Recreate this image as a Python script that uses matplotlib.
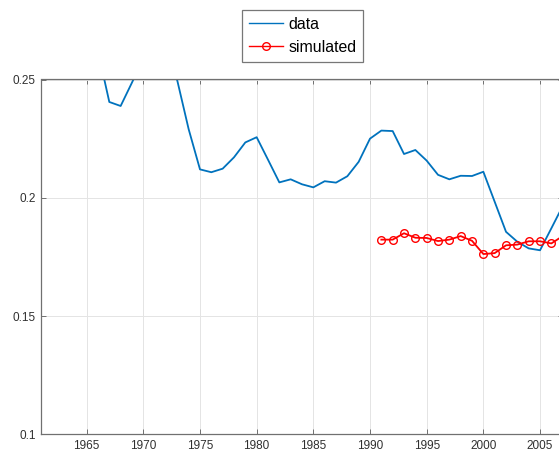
import matplotlib
matplotlib.use("Agg")
import matplotlib.pyplot as plt

# ---- data ----
data_years = list(range(1961, 2008))
data_values = [0.275, 0.270, 0.268, 0.266, 0.264,
               0.262, 0.2405, 0.2388, 0.2487, 0.259,
               0.266, 0.263, 0.2495, 0.229, 0.2120,
               0.2108, 0.2123, 0.2171, 0.2234, 0.2256,
               0.2161, 0.2065, 0.2078, 0.2057, 0.2044,
               0.2070, 0.2064, 0.2091, 0.2152, 0.2250,
               0.2284, 0.2282, 0.2185, 0.2202, 0.2157,
               0.2097, 0.2078, 0.2093, 0.2092, 0.2110,
               0.1983, 0.1856, 0.1814, 0.1786, 0.1778,
               0.1871, 0.1965]
sim_years = list(range(1991, 2008))
sim_values = [0.1823, 0.1823, 0.1850, 0.1831, 0.1830, 0.1817, 0.1823,
              0.1838, 0.1818, 0.1762, 0.1766, 0.1799, 0.1802, 0.1816,
              0.1816, 0.1807, 0.1838]
x_ticks = [1965, 1970, 1975, 1980, 1985, 1990, 1995, 2000, 2005]
x_ticklabels = ["1965", "1970", "1975", "1980", "1985", "1990", "1995", "2000", "2005"]
y_ticks = [0.1, 0.15, 0.2, 0.25]
y_ticklabels = ["0.1", "0.15", "0.2", "0.25"]
legend_labels = ["data", "simulated"]

plt.rcParams['font.family'] = ['Liberation Sans', 'DejaVu Sans']

W, H = 559, 455
fig = plt.figure(figsize=(W / 100, H / 100), dpi=100)
left_px, right_px, top_px, bottom_px = 41.3, 562.7, 79.5, 434.3
ax = fig.add_axes([left_px / W, (H - bottom_px) / H,
                   (right_px - left_px) / W, (bottom_px - top_px) / H])

l1, = ax.plot(data_years, data_values, color='#0072BD', lw=1.3)
l2, = ax.plot(sim_years, sim_values, color='#FF0000', lw=1.3, marker='o',
              markersize=5.5, markerfacecolor='none', markeredgewidth=1.0)

ax.set_xlim(1961, 2007)
ax.set_ylim(0.1, 0.25)
ax.set_xticks(x_ticks)
ax.set_xticklabels(x_ticklabels)
ax.set_yticks(y_ticks)
ax.set_yticklabels(y_ticklabels)

ax.grid(True, color='#e4e4e4', lw=0.7)
ax.set_axisbelow(True)
for s in ax.spines.values():
    s.set_color('#707070')
    s.set_linewidth(0.9)
ax.tick_params(direction='in', length=3.5, width=0.7, color='#707070',
               labelcolor='#303030', labelsize=8.5, pad=4,
               top=True, right=True)

leg = fig.legend([l1, l2], legend_labels, loc='upper center',
                 bbox_to_anchor=(302.5 / W, 1 - 10.3 / H),
                 bbox_transform=fig.transFigure, fancybox=False,
                 edgecolor='#777777', framealpha=1, fontsize=11.4,
                 handlelength=2.2, handletextpad=0.3, labelspacing=0.5,
                 borderpad=0.42, borderaxespad=0)
leg.get_frame().set_linewidth(0.9)
for h in leg.legend_handles:
    h.set_linewidth(1.0)

fig.savefig("out.png", dpi=100)
